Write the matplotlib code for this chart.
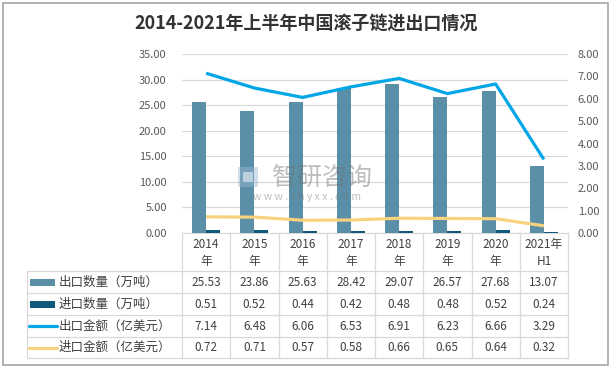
import matplotlib
matplotlib.use("Agg")
import matplotlib.pyplot as plt
import matplotlib.transforms as mtransforms
from matplotlib.patches import Rectangle
from matplotlib.lines import Line2D
import numpy as np

plt.rcParams['font.family'] = ['Noto Sans CJK SC', 'DejaVu Sans']

# --- data ---
years = ["2014\n年", "2015\n年", "2016\n年", "2017\n年", "2018\n年", "2019\n年", "2020\n年", "2021年\nH1"]
export_qty = [25.53, 23.86, 25.63, 28.42, 29.07, 26.57, 27.68, 13.07]
import_qty = [0.51, 0.52, 0.44, 0.42, 0.48, 0.48, 0.52, 0.24]
export_amt = [7.14, 6.48, 6.06, 6.53, 6.91, 6.23, 6.66, 3.29]
import_amt = [0.72, 0.71, 0.57, 0.58, 0.66, 0.65, 0.64, 0.32]

series_names = ["出口数量（万吨）", "进口数量（万吨）", "出口金额（亿美元）", "进口金额（亿美元）"]
series_vals = [export_qty, import_qty, export_amt, import_amt]

c_exp_bar = "#5B8FA8"
c_imp_bar = "#0F5A7A"
c_exp_line = "#00A6E6"
c_imp_line = "#F8D27C"
c_grid = "#D9D9D9"
c_text = "#404040"
c_tick = "#595959"
colors = [c_exp_bar, c_imp_bar, c_exp_line, c_imp_line]

W, H = 612, 369
fig = plt.figure(figsize=(W / 100, H / 100), dpi=100)

px_left, px_right, px_top, px_bot = 182, 568, 54, 233
ax = fig.add_axes([px_left / W, 1 - px_bot / H, (px_right - px_left) / W, (px_bot - px_top) / H])
ax2 = ax.twinx()

# overlay axes in pixel coordinates (table, watermark, frame), drawn on top
ovl = fig.add_axes([0, 0, 1, 1])
ovl.set_xlim(0, W)
ovl.set_ylim(H, 0)
ovl.axis("off")
ovl.set_zorder(10)

x = np.arange(len(years))
bw = 0.29
ax.bar(x - bw / 2, export_qty, width=bw, color=c_exp_bar, zorder=3)
ax.bar(x + bw / 2, import_qty, width=bw, color=c_imp_bar, zorder=3)
ax2.plot(x, export_amt, color=c_exp_line, lw=2.3, solid_capstyle="butt", zorder=4)
ax2.plot(x, import_amt, color=c_imp_line, lw=2.3, solid_capstyle="butt", zorder=4)

ax.set_xlim(-0.5, len(years) - 0.5)
ax.set_ylim(0, 35)
ax.set_yticks(np.arange(0, 36, 5))
ax.set_yticklabels([f"{v:.2f}" for v in np.arange(0, 36, 5)])
ax2.set_ylim(0, 8)
ax2.set_yticks(np.arange(0, 9, 1))
ax2.set_yticklabels([f"{v:.2f}" for v in np.arange(0, 9, 1)])
ax.set_xticks([])
ax.grid(axis="y", color=c_grid, lw=0.9, zorder=0)
ax.set_axisbelow(True)
for a in (ax, ax2):
    for s in a.spines.values():
        s.set_visible(False)
    a.tick_params(axis="y", length=0, labelsize=8, labelcolor=c_tick)
ax.tick_params(axis="y", pad=11)
ax2.tick_params(axis="y", pad=7)
ax.spines["bottom"].set_visible(True)
ax.spines["bottom"].set_color(c_grid)

# watermark (drawn over the bars, semi-transparent)
ovl.text(322, 178, "智研咨询", fontsize=18, color="#6F6F6F", alpha=0.45,
         ha="center", va="center")
ovl.text(307, 197, "w w w . c h y x x . c o m", fontsize=7.5, color="#6F6F6F", alpha=0.45,
         ha="center", va="center")
ovl.add_patch(Rectangle((238, 167), 20, 20, color="#9DB7D5", alpha=0.45, lw=0))
ovl.add_patch(Rectangle((243, 172), 10, 10, color="white", alpha=0.5, lw=0))

# --- data table ---
tr = mtransforms.blended_transform_factory(ax.transData, ovl.transData)
rows_y = [233, 271, 293, 315, 337, 358]
tab_left = 27
lk = dict(color=c_grid, lw=0.9)
for yy in rows_y[1:]:
    ovl.add_line(Line2D([tab_left, px_right], [yy, yy], **lk))
for i in range(len(years) + 1):
    ovl.add_line(Line2D([i - 0.5, i - 0.5], [rows_y[0], rows_y[-1]], transform=tr, **lk))
ovl.add_line(Line2D([tab_left, tab_left], [rows_y[1], rows_y[-1]], **lk))

for i, lab in enumerate(years):
    ovl.text(i, (rows_y[0] + rows_y[1]) / 2 + 1, lab, transform=tr, ha="center", va="center",
             fontsize=8.5, color=c_text, linespacing=1.35)

for r, (name, vals, col) in enumerate(zip(series_names, series_vals, colors)):
    yc = (rows_y[r + 1] + rows_y[r + 2]) / 2
    if r < 2:
        ovl.add_patch(Rectangle((30, yc - 3.5), 25, 7, color=col, lw=0))
    else:
        ovl.add_line(Line2D([29, 57], [yc, yc], color=col, lw=2.3, solid_capstyle="round"))
    ovl.text(59, yc, name, ha="left", va="center", fontsize=9, color=c_text)
    for i, v in enumerate(vals):
        ovl.text(i, yc, f"{v:.2f}", transform=tr, ha="center", va="center",
                 fontsize=8.5, color=c_text)

# title
ovl.text(W / 2, 23, "2014-2021年上半年中国滚子链进出口情况", ha="center", va="center",
         fontsize=13, fontweight="bold", color="#333333")

# outer frame
ovl.add_patch(Rectangle((3, 3), W - 7, H - 7, fill=False, ec="#A6A6A6", lw=1.2))

fig.savefig("out.png", dpi=100)
